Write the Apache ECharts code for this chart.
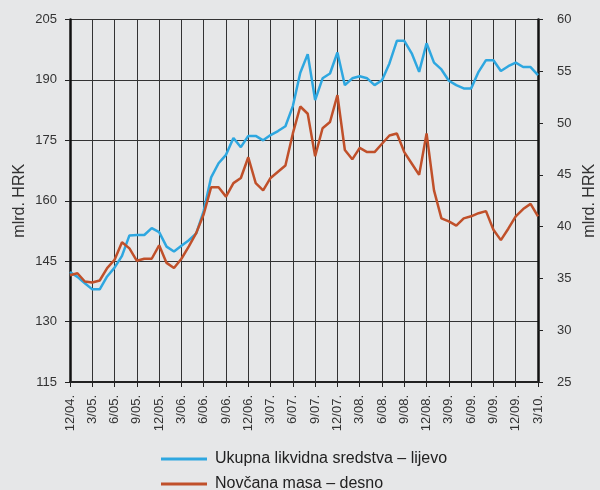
<!DOCTYPE html>
<html>
<head>
<meta charset="utf-8">
<script src="https://cdn.jsdelivr.net/npm/echarts@6/dist/echarts.min.js"></script>
<style>
html, body { margin: 0; padding: 0; background: #e6e7e8; }
#box { width: 600px; height: 490px; }
</style>
</head>
<body>
<div id="box"></div>
<script>
// mjeseci 12/2004 - 3/2010
const months = [
	"12/04.", "1/05.", "2/05.", "3/05.", "4/05.", "5/05.", "6/05.", "7/05.", "8/05.", "9/05.", "10/05.", "11/05.",
	"12/05.", "1/06.", "2/06.", "3/06.", "4/06.", "5/06.", "6/06.", "7/06.", "8/06.", "9/06.", "10/06.", "11/06.",
	"12/06.", "1/07.", "2/07.", "3/07.", "4/07.", "5/07.", "6/07.", "7/07.", "8/07.", "9/07.", "10/07.", "11/07.",
	"12/07.", "1/08.", "2/08.", "3/08.", "4/08.", "5/08.", "6/08.", "7/08.", "8/08.", "9/08.", "10/08.", "11/08.",
	"12/08.", "1/09.", "2/09.", "3/09.", "4/09.", "5/09.", "6/09.", "7/09.", "8/09.", "9/09.", "10/09.", "11/09.",
	"12/09.", "1/10.", "2/10.", "3/10."
]

// Ukupna likvidna sredstva (lijeva os)
const ukupna = [
	142.3, 141.1, 139.5, 138.0, 138.0, 141.2, 143.4, 146.3, 151.4, 151.5, 151.5, 153.2,
	152.2, 148.6, 147.4, 148.8, 150.2, 151.9, 157.5, 165.8, 169.3, 171.4, 175.6, 173.3,
	176.1, 176.1, 175.0, 176.3, 177.3, 178.5, 183.5, 191.8, 196.4, 185.0, 190.4, 191.6,
	196.8, 188.7, 190.4, 190.9, 190.4, 188.7, 189.9, 194.1, 199.7, 199.7, 196.6, 192.0,
	199.1, 194.3, 192.6, 189.8, 188.7, 187.9, 187.9, 192.0, 194.9, 194.9, 192.2, 193.4,
	194.3, 193.2, 193.2, 191.2
]

// Novčana masa (desna os)
const novcana = [
	35.3, 35.5, 34.7, 34.6, 34.8, 36.0, 36.8, 38.5, 37.9, 36.7, 36.9, 36.9,
	38.2, 36.5, 36.0, 36.9, 38.1, 39.4, 41.2, 43.8, 43.8, 42.9, 44.2, 44.7,
	46.7, 44.2, 43.5, 44.7, 45.3, 45.9, 49.0, 51.6, 50.9, 46.8, 49.5, 50.1,
	52.7, 47.4, 46.5, 47.6, 47.2, 47.2, 48.0, 48.8, 49.0, 47.2, 46.1, 45.0,
	49.0, 43.5, 40.8, 40.5, 40.1, 40.8, 41.0, 41.3, 41.5, 39.7, 38.7, 39.8,
	41.0, 41.7, 42.2, 41.0
]

const seriesNames = ["Ukupna likvidna sredstva – lijevo", "Novčana masa – desno"]

let myCharts = echarts.init(document.getElementById("box"))
const font = "'Liberation Sans', Arial, sans-serif"
const gridLine = { show: true, lineStyle: { color: "#333333", width: 1 } }

// legenda - jedna stavka po retku
const legendItem = (name, top) => ({
	left: 161,
	top: top,
	padding: 0,
	icon: "rect",
	itemWidth: 46,
	itemHeight: 3,
	textStyle: { fontSize: 16, color: "#222", fontFamily: font, padding: [0, 0, 0, 3] },
	data: [name],
})

let option = {
	backgroundColor: "#e6e7e8",
	animation: false,
	color: ["#2ea7e0", "#c0502a"],
	textStyle: { fontFamily: font },
	grid: { left: 70, right: 62, top: 19.5, bottom: 108, outerBoundsMode: "none" },
	legend: [legendItem(seriesNames[0], 451), legendItem(seriesNames[1], 476)],
	xAxis: {
		type: "category",
		data: months,
		boundaryGap: false,
		axisLine: { lineStyle: { color: "#222", width: 2 } },
		axisTick: { show: true, interval: 2, length: 5, lineStyle: { color: "#222" } },
		axisLabel: { interval: 2, rotate: 90, margin: 13, fontSize: 13, color: "#333", fontFamily: font },
		splitLine: { show: true, interval: 2, lineStyle: { color: "#333333", width: 1 } },
	},
	yAxis: [
		{
			type: "value",
			min: 115,
			max: 205,
			interval: 15,
			name: "mlrd. HRK",
			nameLocation: "middle",
			nameRotate: 90,
			nameGap: 42,
			nameMoveOverlap: false,
			nameTextStyle: { fontSize: 16, color: "#333", fontFamily: font },
			axisLine: { show: true, lineStyle: { color: "#111", width: 2.5 } },
			axisTick: { show: true, length: 5, lineStyle: { color: "#222" } },
			axisLabel: { margin: 13, fontSize: 13, color: "#333", fontFamily: font },
			splitLine: gridLine,
		},
		{
			type: "value",
			min: 25,
			max: 60,
			interval: 5,
			position: "right",
			name: "mlrd. HRK",
			nameLocation: "middle",
			nameRotate: 90,
			nameGap: 44,
			nameMoveOverlap: false,
			nameTextStyle: { fontSize: 16, color: "#333", fontFamily: font },
			axisLine: { show: true, lineStyle: { color: "#111", width: 2.5 } },
			axisTick: { show: true, length: 5, lineStyle: { color: "#222" } },
			axisLabel: { margin: 19, fontSize: 13, color: "#333", fontFamily: font },
			splitLine: { show: false },
		},
	],
	series: [
		{
			name: seriesNames[0],
			type: "line",
			yAxisIndex: 0,
			data: ukupna,
			symbol: "none",
			lineStyle: { width: 2.5 },
			z: 3,
		},
		{
			name: seriesNames[1],
			type: "line",
			yAxisIndex: 1,
			data: novcana,
			symbol: "none",
			lineStyle: { width: 2.5 },
			z: 4,
		},
	],
}
myCharts.setOption(option)
</script>
</body>
</html>
